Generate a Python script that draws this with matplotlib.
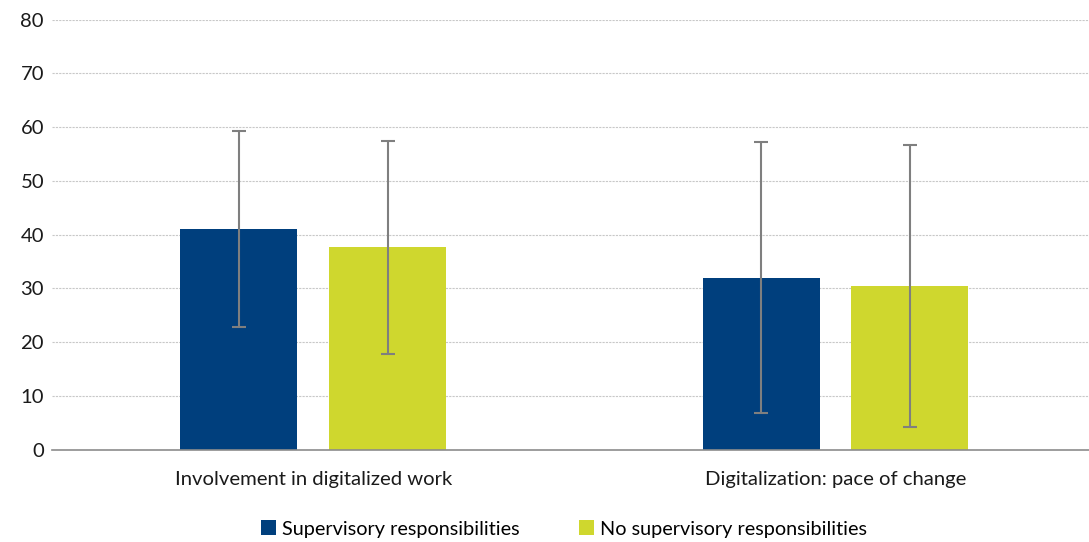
import numpy as np
import matplotlib.pyplot as plt
import matplotlib

matplotlib.rcParams['font.family'] = ['Lato', 'DejaVu Sans']

categories = ["Involvement in digitalized work", "Digitalization: pace of change"]
series_names = ["Supervisory responsibilities", "No supervisory responsibilities"]
supervisory = [41.0, 32.0]
supervisory_lo = [22.8, 6.9]
supervisory_hi = [59.2, 57.2]
no_supervisory = [37.7, 30.4]
no_supervisory_lo = [17.9, 4.3]
no_supervisory_hi = [57.4, 56.6]

colors = ['#003f7d', '#cfd72e']

fig = plt.figure(figsize=(10.89, 5.42), dpi=100)
ax = fig.add_axes([0.048, 0.170, 0.959, 0.794])

x = np.arange(len(categories))
width = 0.224
offset = 0.1425

for vals, lo, hi, col, name, sgn in [
        (supervisory, supervisory_lo, supervisory_hi, colors[0], series_names[0], -1),
        (no_supervisory, no_supervisory_lo, no_supervisory_hi, colors[1], series_names[1], 1)]:
    vals = np.array(vals)
    yerr = [vals - np.array(lo), np.array(hi) - vals]
    ax.bar(x + sgn * offset, vals, width, color=col, label=name, zorder=2)
    ax.errorbar(x + sgn * offset, vals, yerr=yerr, fmt='none', ecolor='#7f7f7f',
                elinewidth=1.5, capsize=5, capthick=1.5, zorder=3)

ax.set_xlim(-0.5, 1.5)
ax.set_ylim(0, 80)
ax.set_yticks(range(0, 81, 10))
ax.set_xticks(x)
ax.set_xticklabels(categories, fontsize=14.6, color='#1a1a1a')
ax.tick_params(axis='y', labelsize=14.6, colors='#1a1a1a', length=0, pad=6)
ax.tick_params(axis='x', length=0, pad=15)
ax.grid(axis='y', color='#c8c8c8', linestyle=(0, (2, 1)), linewidth=0.8, zorder=0)
for s in ['top', 'right', 'left']:
    ax.spines[s].set_visible(False)
ax.spines['bottom'].set_color('#8c8c8c')
ax.spines['bottom'].set_linewidth(1.2)
ax.spines['bottom'].set_zorder(4)

fig.legend(loc='center', bbox_to_anchor=(0.518, 0.024), ncol=2, frameon=False,
           fontsize=14.3, handlelength=0.75, handleheight=0.75, handletextpad=0.3,
           columnspacing=3.0)

fig.savefig('out.png', dpi=100)
